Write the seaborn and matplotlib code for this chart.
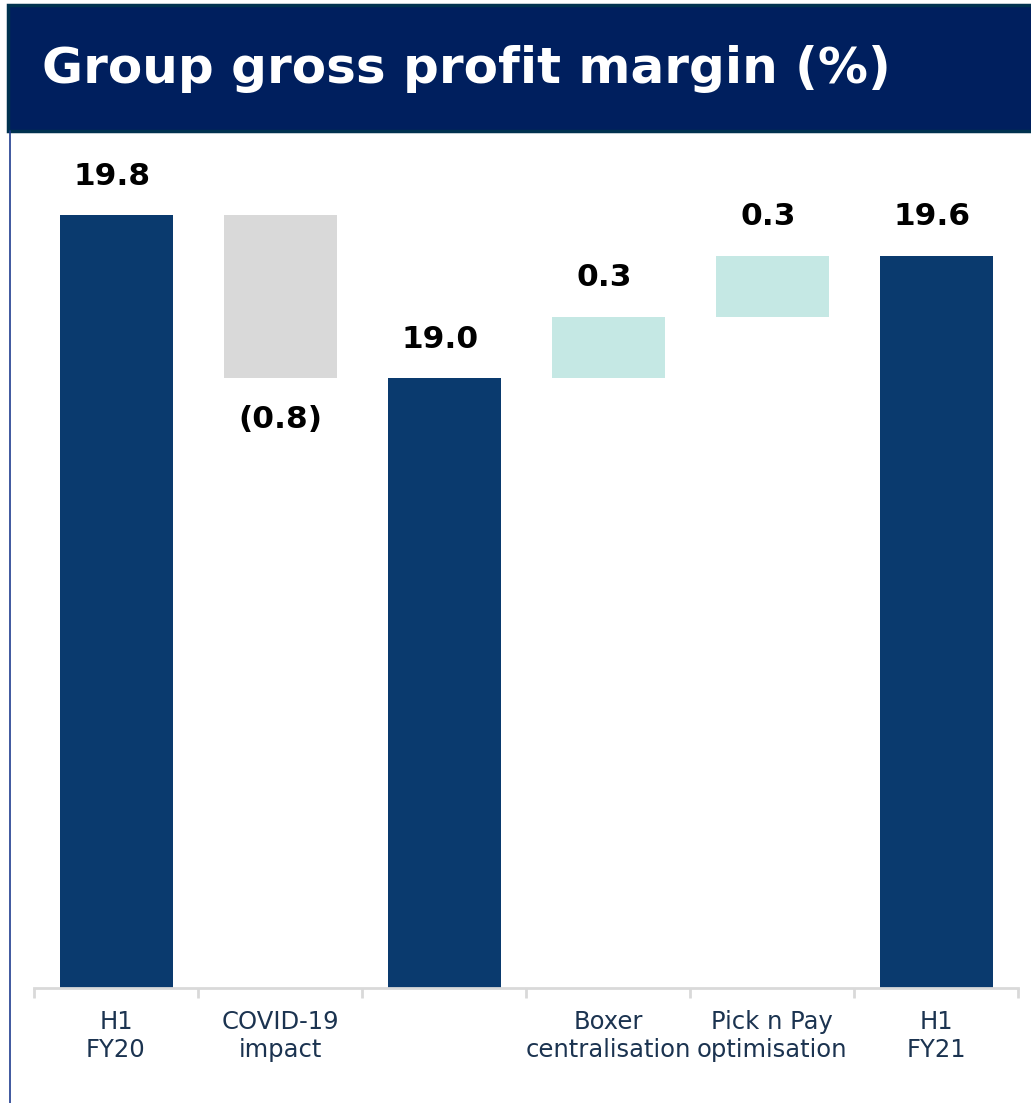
import matplotlib
matplotlib.use("Agg")
import matplotlib.pyplot as plt
from matplotlib.patches import Rectangle
from matplotlib.lines import Line2D
import seaborn as sns
import pandas as pd
import numpy as np

# ---- data ----
categories = ["H1\nFY20", "COVID-19\nimpact", " ", "Boxer\ncentralisation", "Pick n Pay\noptimisation", "H1\nFY21"]
bar_bottoms = [0.0, 19.0, 0.0, 19.0, 19.3, 0.0]
bar_heights = [19.8, 0.8, 19.0, 0.3, 0.3, 19.6]
value_labels = ["19.8", "(0.8)", "19.0", "0.3", "0.3", "19.6"]
label_above = [True, False, True, True, True, True]
bar_colors = ["#0a3a6e", "#d9d9d9", "#0a3a6e", "#c5e8e4", "#c5e8e4", "#0a3a6e"]
title = "Group gross profit margin (%)"

df = pd.DataFrame({"cat": categories, "height": bar_heights})

sns.set_theme(style="white")
plt.rcParams["font.family"] = ["DejaVu Sans"]

fig = plt.figure(figsize=(10.31, 11.03), dpi=100)
W, H = 1031, 1103
ax = fig.add_axes([34 / W, 115 / H, 984 / W, (988 - 131) / H])

sns.barplot(data=df, x="cat", y="height", order=categories, bottom=bar_bottoms,
            width=113 / 164, ax=ax, color=bar_colors[0], linewidth=0, errorbar=None)
for p, c in zip(ax.patches, bar_colors):
    p.set_facecolor(c)
    p.set_edgecolor(c)

ax.set_ylim(16.006, 16.006 + 857 / 203.75)
ax.set_xlim(-0.5, 5.5)
ax.set_xlabel("")
ax.set_ylabel("")
ax.set_yticks([])

for s in ["top", "right", "left"]:
    ax.spines[s].set_visible(False)
ax.spines["bottom"].set_color("#d9d9d9")
ax.spines["bottom"].set_linewidth(2)

ax.set_xticks(range(len(categories)))
ax.set_xticklabels(categories, fontsize=17.5, color="#1b3350", linespacing=1.2)
ax.tick_params(axis="x", which="major", length=0, pad=16)
ax.set_xticks(np.arange(-0.5, len(categories), 1.0), minor=True)
ax.tick_params(axis="x", which="minor", length=7, width=2, color="#d9d9d9", direction="out")
ax.tick_params(axis="x", which="minor", bottom=True)

for i, (b, h, lab, up) in enumerate(zip(bar_bottoms, bar_heights, value_labels, label_above)):
    top = b + h
    if up:
        ax.annotate(lab, xy=(i, top), xytext=(-3, 28), textcoords="offset points",
                    ha="center", va="center", fontsize=22.5, fontweight="bold", color="black")
    else:
        ax.annotate(lab, xy=(i, b), xytext=(0, -30), textcoords="offset points",
                    ha="center", va="center", fontsize=22.5, fontweight="bold", color="black")

# title banner
fig.patches.append(Rectangle((8 / W, 1 - 131 / H), 1.0, 126 / H, transform=fig.transFigure,
                             facecolor="#001f5e", edgecolor="#00324f", linewidth=2.5, zorder=0))
fig.text(42 / W, 1 - 69 / H, title, color="white", fontsize=36, fontweight="bold",
         ha="left", va="center")
fig.lines.append(Line2D([10 / W, 10 / W], [0, 1 - 131 / H], transform=fig.transFigure,
                        color="#1f3c8f", linewidth=1.2))

fig.savefig("out.png", dpi=100, facecolor="white")
